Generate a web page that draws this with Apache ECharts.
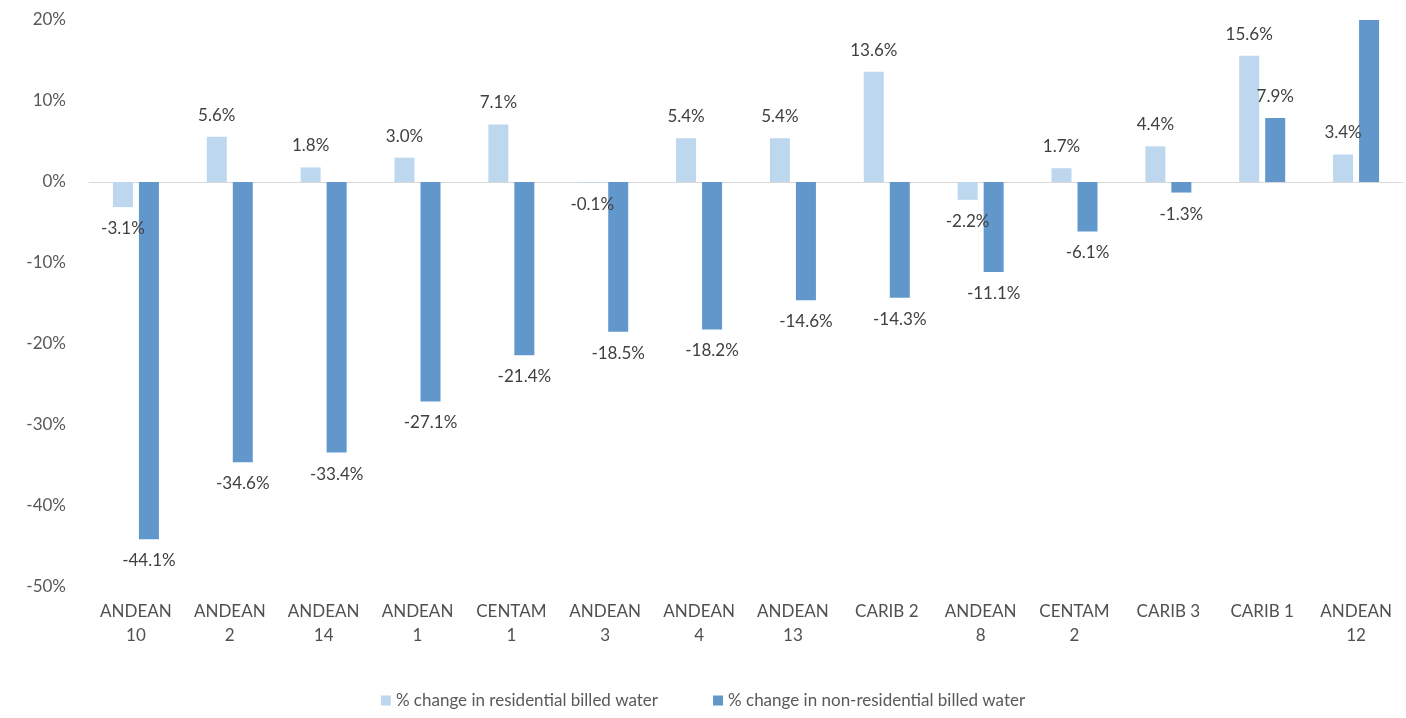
<!DOCTYPE html>
<html>
<head>
<meta charset="utf-8">
<title>Billed water change</title>
<script src="https://cdn.jsdelivr.net/npm/echarts@6/dist/echarts.min.js"></script>
<style>
  html, body { margin: 0; padding: 0; background: #fff; }
  #main { width: 1406px; height: 718px; }
</style>
</head>
<body>
<div id="main"></div>
<script>
// categories (utility names)
var categories = ['ANDEAN\n10', 'ANDEAN\n2', 'ANDEAN\n14', 'ANDEAN\n1', 'CENTAM\n1', 'ANDEAN\n3', 'ANDEAN\n4',
  'ANDEAN\n13', 'CARIB 2', 'ANDEAN\n8', 'CENTAM\n2', 'CARIB 3', 'CARIB 1', 'ANDEAN\n12'];

// % change values
var residential = [-3.1, 5.6, 1.8, 3.0, 7.1, -0.1, 5.4, 5.4, 13.6, -2.2, 1.7, 4.4, 15.6, 3.4];
var nonResidential = [-44.1, -34.6, -33.4, -27.1, -21.4, -18.5, -18.2, -14.6, -14.3, -11.1, -6.1, -1.3, 7.9, 20.0];

var seriesNames = ['% change in residential billed water', '% change in non-residential billed water'];

var textColor = '#404040';
var font = 'Lato, "Open Sans", sans-serif';

function labelFor(v) {
  return {
    show: true,
    position: v < 0 ? 'bottom' : 'top',
    distance: 13,
    color: textColor,
    fontFamily: font,
    fontSize: 17,
    formatter: function (p) { return p.value.toFixed(1) + '%'; }
  };
}

function toItems(arr, hideLast) {
  return arr.map(function (v, i) {
    var lbl = labelFor(v);
    if (hideLast && i === arr.length - 1) lbl.show = false;
    return { value: v, label: lbl };
  });
}

var chart = echarts.init(document.getElementById('main'));
chart.setOption({
  animation: false,
  grid: { left: 89, right: 3, top: 20, bottom: 131 },
  legend: {
    bottom: 4,
    left: 'center',
    itemWidth: 10,
    itemHeight: 10,
    itemGap: 55,
    icon: 'rect',
    textStyle: { color: '#595959', fontFamily: font, fontSize: 17 },
    data: seriesNames
  },
  xAxis: [{
    type: 'category',
    data: categories,
    axisLine: { show: false, onZero: false },
    axisTick: { show: false },
    axisLabel: {
      color: '#505050', fontFamily: font, fontSize: 17, lineHeight: 24, margin: 13, interval: 0
    }
  }, {
    type: 'category',
    data: categories,
    position: 'bottom',
    axisLine: { show: true, onZero: true, lineStyle: { color: '#d9d9d9', width: 1 } },
    axisTick: { show: false },
    axisLabel: { show: false }
  }],
  yAxis: {
    type: 'value',
    min: -50,
    max: 20,
    interval: 10,
    axisLine: { show: false },
    axisTick: { show: false },
    splitLine: { show: false },
    axisLabel: {
      color: '#595959', fontFamily: font, fontSize: 17, margin: 23,
      formatter: '{value}%'
    }
  },
  series: [{
    name: seriesNames[0],
    type: 'bar',
    barWidth: 20,
    barGap: '30%',
    itemStyle: { color: '#bdd7ee' },
    data: toItems(residential, false)
  }, {
    name: seriesNames[1],
    type: 'bar',
    barWidth: 20,
    barGap: '30%',
    itemStyle: { color: '#6197cb' },
    data: toItems(nonResidential, true)
  }]
});
</script>
</body>
</html>
